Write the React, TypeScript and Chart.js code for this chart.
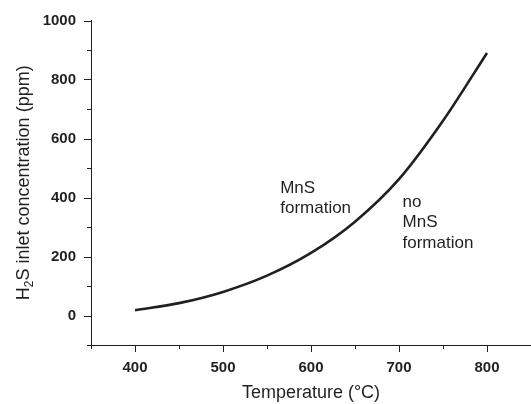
import React, { useEffect, useRef } from "react";
import { Chart, registerables } from "chart.js";

Chart.register(...registerables);

// ---- data ----
const temperatures = [400, 450, 500, 550, 600, 650, 700, 750, 800];
const h2sConcentration = [18, 42, 80, 135, 212, 318, 462, 660, 890];
const xRange = [350, 850];
const yRange = [-100, 1000];
const xAxisTitle = "Temperature (°C)";
const yAxisTitleParts = ["H", "2", "S inlet concentration (ppm)"];
const leftRegionLabel = ["MnS", "formation"];
const rightRegionLabel = ["no", "MnS", "formation"];
const leftRegionAnchor = { x: 565, y: 416 };
const rightRegionAnchor = { x: 704, y: 369 };

const INK = "#231f20";
const FONT = "'Liberation Sans', Arial, Helvetica, sans-serif";

const decorPlugin = {
  id: "decor",
  afterDraw(chart: any) {
    const ctx = chart.ctx as CanvasRenderingContext2D;
    const xs = chart.scales.x;
    const ys = chart.scales.y;
    const area = chart.chartArea;
    ctx.save();
    ctx.strokeStyle = INK;
    ctx.lineWidth = 1;
    // x ticks
    xs.ticks.forEach((t: any) => {
      const px = Math.round(xs.getPixelForValue(t.value)) + 0.5;
      const len = t.value % 100 === 0 ? 7 : 4;
      ctx.beginPath();
      ctx.moveTo(px, area.bottom);
      ctx.lineTo(px, area.bottom + len);
      ctx.stroke();
    });
    // y ticks
    ys.ticks.forEach((t: any) => {
      const py = Math.round(ys.getPixelForValue(t.value)) + 0.5;
      const len = t.value % 200 === 0 ? 7 : 4;
      ctx.beginPath();
      ctx.moveTo(area.left, py);
      ctx.lineTo(area.left - len, py);
      ctx.stroke();
    });

    // region labels
    ctx.fillStyle = INK;
    ctx.font = `17px ${FONT}`;
    ctx.textAlign = "left";
    ctx.textBaseline = "alphabetic";
    const drawBlock = (lines: string[], anchor: { x: number; y: number }) => {
      const px = xs.getPixelForValue(anchor.x);
      const py = ys.getPixelForValue(anchor.y);
      lines.forEach((l, i) => ctx.fillText(l, px, py + i * 20.5));
    };
    drawBlock(leftRegionLabel, leftRegionAnchor);
    drawBlock(rightRegionLabel, rightRegionAnchor);

    // y axis title with subscript
    const cy = (area.top + area.bottom) / 2;
    ctx.translate(28.5, cy);
    ctx.rotate(-Math.PI / 2);
    const big = `18px ${FONT}`;
    const small = `12px ${FONT}`;
    ctx.font = big;
    const w0 = ctx.measureText(yAxisTitleParts[0]).width;
    const w2 = ctx.measureText(yAxisTitleParts[2]).width;
    ctx.font = small;
    const w1 = ctx.measureText(yAxisTitleParts[1]).width;
    let x = -(w0 + w1 + w2) / 2;
    ctx.font = big;
    ctx.fillText(yAxisTitleParts[0], x, 0);
    x += w0;
    ctx.font = small;
    ctx.fillText(yAxisTitleParts[1], x, 4);
    x += w1;
    ctx.font = big;
    ctx.fillText(yAxisTitleParts[2], x, 0);
    ctx.restore();
  },
};

export default function App() {
  const ref = useRef<HTMLCanvasElement | null>(null);
  useEffect(() => {
    if (!ref.current) return;
    const chart = new Chart(ref.current, {
      type: "line",
      data: {
        datasets: [
          {
            data: temperatures.map((t, i) => ({ x: t, y: h2sConcentration[i] })),
            borderColor: INK,
            borderWidth: 2.6,
            pointRadius: 0,
            cubicInterpolationMode: "monotone",
            fill: false,
          },
        ],
      },
      options: {
        animation: false,
        responsive: false,
        maintainAspectRatio: false,
        layout: { padding: { top: 20.5, right: 0, left: 0, bottom: 0 } },
        plugins: { legend: { display: false }, tooltip: { enabled: false } },
        scales: {
          x: {
            type: "linear",
            min: xRange[0],
            max: xRange[1],
            grid: { display: false, drawTicks: true, tickLength: 14 },
            border: { display: true, color: INK, width: 1 },
            ticks: {
              stepSize: 50,
              autoSkip: false,
              maxRotation: 0,
              padding: 0,
              color: INK,
              font: { family: FONT, size: 15, weight: "bold" },
              callback: (v: any) => (Number(v) % 100 === 0 ? String(v) : ""),
            },
            title: {
              display: true,
              text: xAxisTitle,
              color: INK,
              font: { family: FONT, size: 18 },
              padding: { top: 0, bottom: 0 },
            },
            afterFit: (s: any) => {
              s.height = 59;
            },
          },
          y: {
            type: "linear",
            min: yRange[0],
            max: yRange[1],
            grid: { display: false, drawTicks: true, tickLength: 15 },
            border: { display: true, color: INK, width: 1 },
            ticks: {
              stepSize: 100,
              autoSkip: false,
              padding: 0,
              color: INK,
              font: { family: FONT, size: 15, weight: "bold" },
              callback: (v: any) => {
                const n = Number(v);
                return n >= 0 && n % 200 === 0 ? String(n) : "";
              },
            },
            afterFit: (s: any) => {
              s.width = 91;
            },
          },
        },
      },
      plugins: [decorPlugin],
    } as any);
    return () => chart.destroy();
  }, []);
  return (
    <div style={{ position: "absolute", left: 0, top: 0, width: 531, height: 404, background: "#fff" }}>
      <canvas ref={ref} width={531} height={404} style={{ width: 531, height: 404 }} />
    </div>
  );
}
